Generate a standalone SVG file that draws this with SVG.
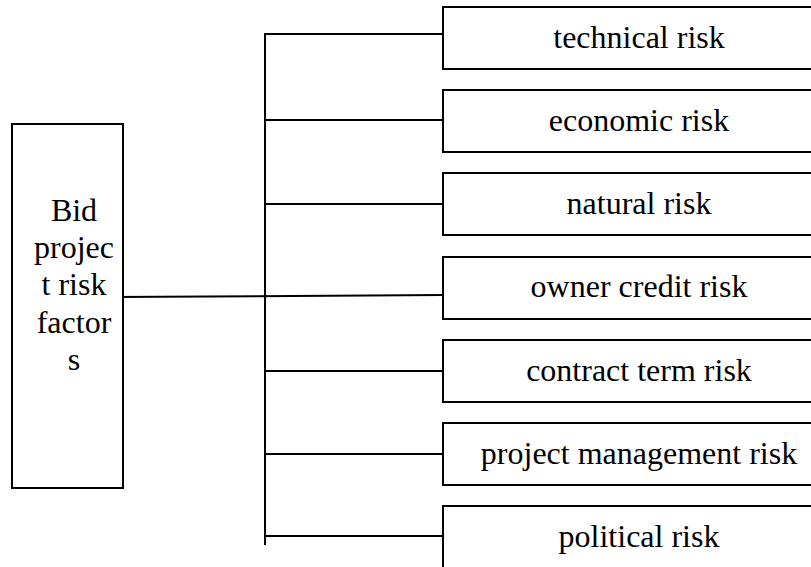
<svg xmlns="http://www.w3.org/2000/svg" width="811" height="567" viewBox="0 0 811 567">
  <style>
    .box { fill: #ffffff; stroke: #000000; stroke-width: 2; }
    .wire { fill: none; stroke: #000000; stroke-width: 2; }
    .label { font-family: "Liberation Serif", "Times New Roman", serif; font-size: 32px; fill: #000000; text-anchor: middle; }
  </style>
  <rect width="811" height="567" fill="#ffffff"/>

  <!-- connectors: trunk, branches and the link from the root node -->
  <g id="connectors">
    <line class="wire" x1="265" y1="34" x2="265" y2="545"/>
    <line class="wire" x1="264" y1="34" x2="443" y2="34"/>
    <line class="wire" x1="265" y1="120" x2="443" y2="120"/>
    <line class="wire" x1="265" y1="204" x2="443" y2="204"/>
    <line class="wire" x1="113" y1="297" x2="443" y2="295"/>
    <line class="wire" x1="265" y1="371" x2="443" y2="371"/>
    <line class="wire" x1="265" y1="454" x2="443" y2="454"/>
    <line class="wire" x1="265" y1="536" x2="443" y2="536"/>
  </g>

  <!-- root node -->
  <g id="root">
    <rect class="box" x="12" y="124" width="111" height="364"/>
    <text class="label" x="74" y="221">Bid</text>
    <text class="label" x="74" y="258">projec</text>
    <text class="label" x="74" y="295">t risk</text>
    <text class="label" x="74" y="333">factor</text>
    <text class="label" x="74" y="370">s</text>
  </g>

  <!-- risk category nodes (run past the right edge) -->
  <g id="technical">
    <rect class="box" x="443" y="7" width="392" height="62"/>
    <text class="label" x="639" y="48">technical risk</text>
  </g>
  <g id="economic">
    <rect class="box" x="443" y="90" width="392" height="62"/>
    <text class="label" x="639" y="131">economic risk</text>
  </g>
  <g id="natural">
    <rect class="box" x="443" y="173" width="392" height="62"/>
    <text class="label" x="639" y="214">natural risk</text>
  </g>
  <g id="owner-credit">
    <rect class="box" x="443" y="257" width="392" height="62"/>
    <text class="label" x="639" y="297">owner credit risk</text>
  </g>
  <g id="contract-term">
    <rect class="box" x="443" y="340" width="392" height="62"/>
    <text class="label" x="639" y="381">contract term risk</text>
  </g>
  <g id="project-management">
    <rect class="box" x="443" y="423" width="392" height="62"/>
    <text class="label" x="639" y="464">project management risk</text>
  </g>
  <g id="political">
    <rect class="box" x="443" y="506" width="392" height="62"/>
    <text class="label" x="639" y="547">political risk</text>
  </g>
</svg>
